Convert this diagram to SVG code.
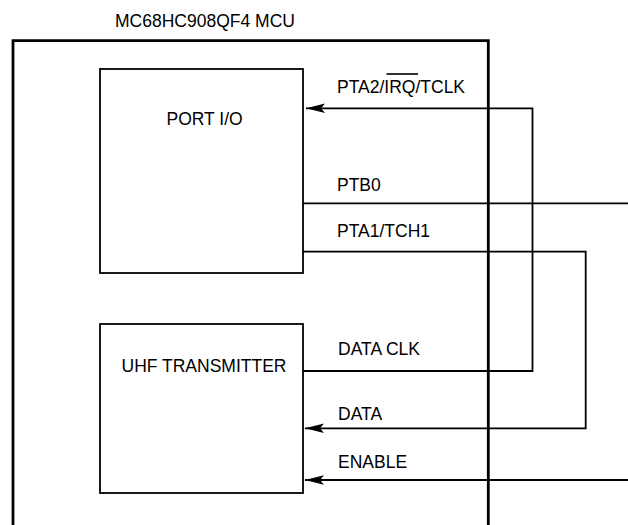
<svg xmlns="http://www.w3.org/2000/svg" width="628" height="525" viewBox="0 0 628 525">
<style>
text{font-family:"Liberation Sans",Arial,Helvetica,sans-serif;font-size:17.5px;fill:#000}
.box{fill:#fff;stroke:#000;stroke-width:1.8}
.wire{fill:none;stroke:#000;stroke-width:1.8}
</style>
<defs>
<marker id="arr" markerUnits="userSpaceOnUse" markerWidth="22" markerHeight="12" viewBox="-20 -6 22 12" refX="0" refY="0" orient="auto">
<path d="M0,0 L-19,-4.8 L-15,0 L-19,4.8 Z" fill="#000"/>
</marker>
</defs>
<rect width="628" height="525" fill="#fff"/>
<g id="mcu">
<path d="M13,525 V40.7 H488.3 V525" fill="none" stroke="#000" stroke-width="2.8"/>
<text x="115" y="27">MC68HC908QF4 MCU</text>
</g>
<g id="port-io">
<rect class="box" x="100" y="69" width="203" height="204"/>
<text x="166.5" y="125">PORT I/O</text>
</g>
<g id="uhf-transmitter">
<rect class="box" x="100" y="324" width="203" height="169"/>
<text x="121.5" y="371.7">UHF TRANSMITTER</text>
</g>
<g id="connectors">
<path class="wire" d="M303,371 H532.5 V108.3 H306" marker-end="url(#arr)"/>
<path class="wire" d="M303,203.3 H628"/>
<path class="wire" d="M303,251.7 H585.7 V428.3 H305" marker-end="url(#arr)"/>
<path class="wire" d="M628,480 H305" marker-end="url(#arr)"/>
<text x="337" y="93.3">PTA2/IRQ/TCLK</text>
<line x1="386.5" y1="74" x2="418" y2="74" stroke="#000" stroke-width="1.6"/>
<text x="337" y="190.7">PTB0</text>
<text x="337" y="236.7">PTA1/TCH1</text>
<text x="338" y="355">DATA CLK</text>
<text x="338" y="420">DATA</text>
<text x="338" y="468.3">ENABLE</text>
</g>
</svg>
